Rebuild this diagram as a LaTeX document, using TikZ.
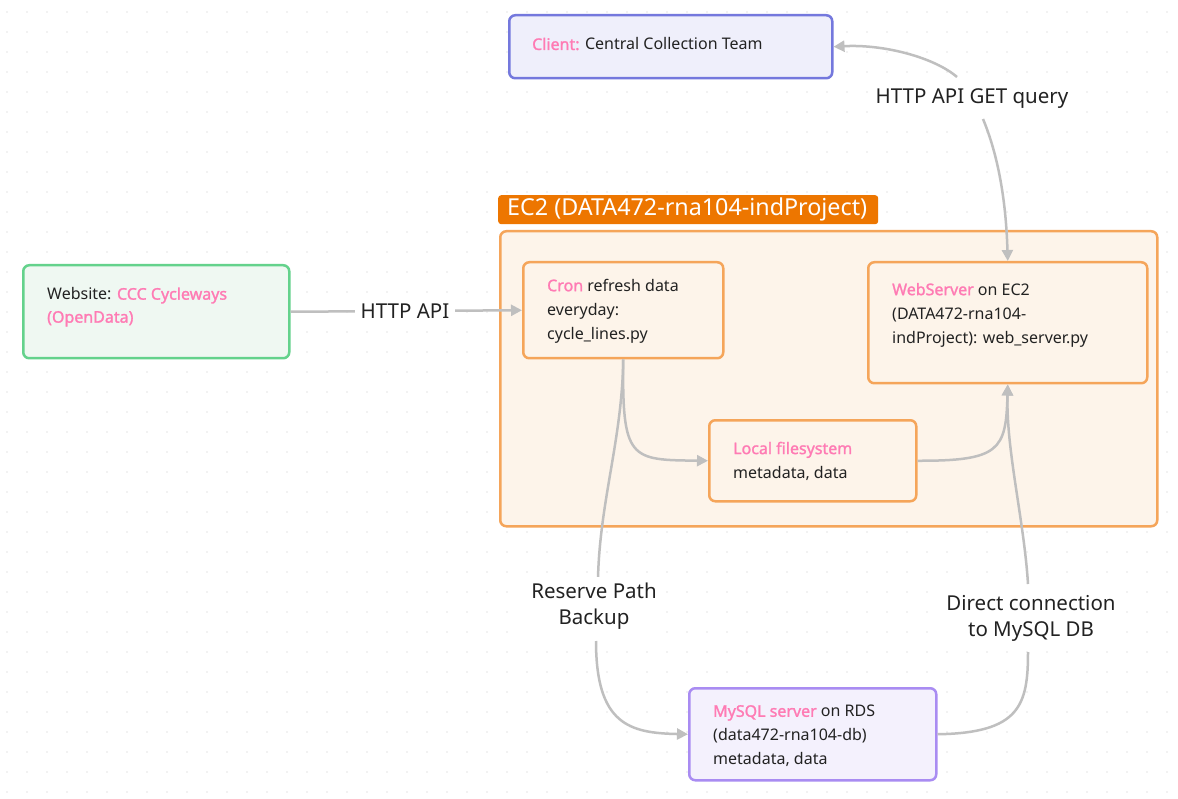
\documentclass[tikz,border=0pt]{standalone}
\usepackage{fontspec}
\setmainfont{Noto Sans}
\newfontfamily\pkfont[FakeBold=1.5]{Noto Sans}
\usetikzlibrary{arrows.meta,calc}
\definecolor{ink}{HTML}{222222}
\definecolor{pinkt}{HTML}{FF7BB4}
\definecolor{conn}{HTML}{BFBFBF}
\definecolor{clientfill}{HTML}{EFEFFB}
\definecolor{clientline}{HTML}{7478DD}
\definecolor{webfill}{HTML}{EFF8F2}
\definecolor{webline}{HTML}{64D28C}
\definecolor{ecfill}{HTML}{FDF4EA}
\definecolor{ecline}{HTML}{F5A55A}
\definecolor{ectag}{HTML}{ED7600}
\definecolor{sqlfill}{HTML}{F4F1FD}
\definecolor{sqlline}{HTML}{A98CF2}
\definecolor{dotc}{HTML}{E6E6E6}
\tikzset{
  boxbase/.style={draw, rounded corners=6pt, line width=2.5pt, anchor=north west, inner sep=0pt},
  clientbox/.style={boxbase, draw=clientline, fill=clientfill},
  webbox/.style={boxbase, draw=webline, fill=webfill},
  ecbox/.style={boxbase, draw=ecline, fill=ecfill},
  sqlbox/.style={boxbase, draw=sqlline, fill=sqlfill},
  boxtext/.style={anchor=west, inner sep=0pt, align=left, text=ink, font=\fontsize{16}{24}\selectfont},
  lbl/.style={fill=white, inner sep=6pt, align=center, text=ink, font=\fontsize{20.5}{26}\selectfont},
  conn/.style={draw=conn, line width=2.5pt},
  arr/.style={conn, -{Triangle[length=11pt,width=11pt]}},
  rarr/.style={conn, {Triangle[length=11pt,width=11pt]}-},
}
\newcommand{\pk}[1]{\textcolor{pinkt}{\pkfont #1}}
\begin{document}
\begin{tikzpicture}[x=1pt,y=-1pt]
\useasboundingbox (0,0) rectangle (1178,799);
\fill[white] (0,0) rectangle (1178,799);
\foreach \i in {0,...,58}{\foreach \j in {0,...,39}{\fill[dotc] (7+20*\i,12+20*\j) circle (0.8);}}

% container
\node[ecbox, minimum width=657pt, minimum height=295pt] (ec2) at (499,230) {};
\node[fill=ectag, rounded corners=3pt, anchor=north west, minimum width=380pt, minimum height=29pt, inner sep=0pt] (ectagbox) at (498,195) {};
\node[anchor=west, inner sep=0pt, text=white, font=\fontsize{23.3}{24}\selectfont] (ectagtext) at (507,209.5) {EC2 (DATA472-rna104-indProject)};

% boxes
\node[clientbox, minimum width=323pt, minimum height=63pt] (client) at (508,14) {};
\node[boxtext] (clientt) at (532,44) {\pk{Client:} Central Collection Team};

\node[webbox, minimum width=266pt, minimum height=93pt] (web) at (22,264) {};
\node[boxtext, font=\fontsize{16}{23}\selectfont] (webt) at (47,307) {Website: \pk{CCC Cycleways}\\\pk{(OpenData)}};

\node[ecbox, minimum width=200pt, minimum height=96pt] (cron) at (522,261) {};
\node[boxtext] (cront) at (547,311) {\pk{Cron} refresh data\\everyday:\\cycle\_lines.py};

\node[ecbox, minimum width=279pt, minimum height=121pt] (ws) at (867,261) {};
\node[boxtext] (wst) at (892,315) {\pk{WebServer} on EC2\\(DATA472-rna104-\\indProject): web\_server.py};

\node[ecbox, minimum width=207pt, minimum height=81pt] (lfs) at (708,419) {};
\node[boxtext] (lfst) at (733,461) {\pk{Local filesystem}\\metadata, data};

\node[sqlbox, minimum width=247pt, minimum height=92pt] (sql) at (688,687) {};
\node[boxtext] (sqlt) at (713,736) {\pk{MySQL server} on RDS\\(data472-rna104-db)\\metadata, data};

% label anchors
\coordinate (b1) at (957,77);
\coordinate (b2) at (983,119);
\coordinate (r1) at (598,578);
\coordinate (r2) at (596,641);
\coordinate (d1) at (1028,584);
\coordinate (d2) at (1028,652);

% connectors
\draw[conn] (web.east) -- (405,311) coordinate (ha);
\draw[arr] (ha) -- (cron.west);
\draw[rarr] (client.east) .. controls (885,44) and (935,58) .. (b1);
\draw[arr] (b2) .. controls (998,155) and (1006,200) .. (ws.north);
\draw[arr] (cron.south) .. controls (622,460) and (630,460) .. (lfs.west);
\draw[conn] (cron.south) .. controls (622,440) and (600,500) .. (r1);
\draw[arr] (r2) .. controls (596,725) and (630,733) .. (sql.west);
\draw[arr] (lfs.east) .. controls (1000,461) and (1006,450) .. (ws.south);
\draw[conn] (sql.east) .. controls (1020,733) and (1028,705) .. (d2);
\draw[arr] (d1) .. controls (1024,520) and (1006,450) .. (ws.south);

% labels
\node[lbl] (la) at (405,311) {HTTP API};
\node[lbl] (lb) at (972,99) {HTTP API GET query};
\node[lbl] (lr) at (594,606) {Reserve Path\\Backup};
\node[lbl] (ld) at (1031,618) {Direct connection\\to MySQL DB};
\end{tikzpicture}
\end{document}
